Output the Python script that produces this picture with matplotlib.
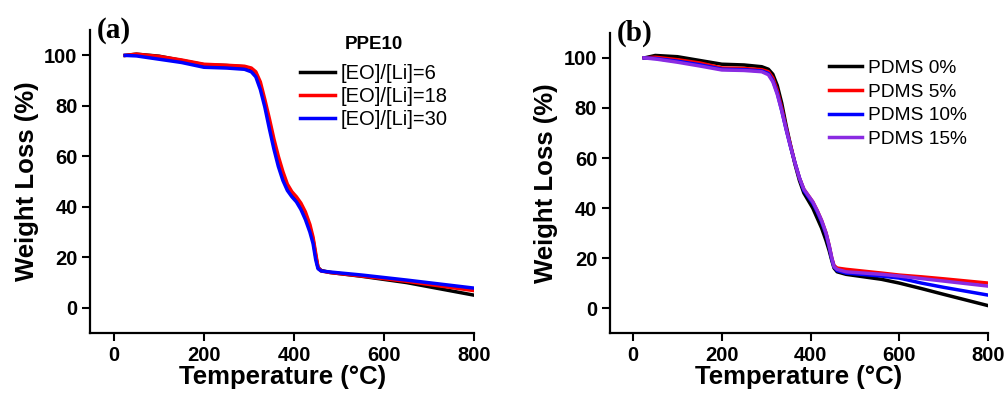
import numpy as np
import matplotlib
matplotlib.use('Agg')
import matplotlib.pyplot as plt

plt.rcParams['font.family'] = ['Liberation Sans', 'DejaVu Sans']

# panel (a): PPE10 with different [EO]/[Li]
tempA = [25, 50, 100, 150, 200, 250, 290, 305, 315, 325, 335, 345, 355, 365,
         375, 385, 395, 405, 415, 425, 435, 442, 448, 453, 460, 480, 550, 650, 800]
eo6 = [100, 100.5, 99.7, 98.0, 96.3, 96.0, 95.5, 94.5, 92.5, 88, 81, 73, 65, 58,
       52, 47.5, 45, 43, 40, 36.5, 31.5, 27, 20.5, 16, 14.8, 14, 12.5, 10, 5]
eo18 = [100, 100.5, 99.6, 98.2, 96.5, 96.1, 95.7, 95, 93.5, 89.5, 82.5, 75, 67, 60,
        54, 49, 46, 44, 41.5, 38, 33, 28, 21.5, 16, 14.6, 14, 12.6, 10.5, 6.8]
eo30 = [100, 99.8, 98.5, 97.2, 95.3, 95, 94.5, 93.5, 91.5, 86.5, 79.5, 71, 63, 56,
        50.5, 46.5, 44, 42, 39, 35, 30, 25.5, 19, 15.5, 14.6, 14.2, 13, 11, 7.8]
labelsA = ['[EO]/[Li]=6', '[EO]/[Li]=18', '[EO]/[Li]=30']
colorsA = ['black', 'red', 'blue']

# panel (b): PDMS content
tempB = [25, 50, 100, 150, 200, 250, 290, 305, 315, 325, 335, 345, 355, 365,
         375, 385, 395, 405, 415, 425, 435, 442, 448, 453, 460, 480, 560, 600, 650, 700, 800]
pdms0 = [100, 101, 100.5, 99, 97.5, 97.2, 96.5, 95.5, 93.5, 89, 82, 73, 65, 57.5,
         51, 46, 43, 40, 36, 32, 27, 23, 19, 16, 14.5, 13.5, 11.5, 10, 7.8, 5.5, 1]
pdms5 = [100, 100.3, 99.3, 98, 96, 95.8, 95.3, 94.5, 92, 87, 80, 72, 65, 58,
         52, 47.5, 45, 42.5, 39, 35, 30, 25, 20, 17, 16, 15.5, 14, 13.2, 12.5, 11.7, 10]
pdms10 = [100, 99.8, 98.7, 97.3, 95.5, 95.3, 94.8, 93.8, 91, 86, 79, 71.5, 64.5, 58,
          52, 47, 44.5, 42, 38.5, 34.5, 29.5, 24.5, 19.5, 16.5, 15, 14, 12.8, 12, 10, 8.3, 5.2]
pdms15 = [100, 99.6, 98.3, 96.8, 95.2, 95, 94.5, 93.3, 90.5, 85.5, 79, 71.5, 64.5, 58,
          52, 47.5, 45, 42.5, 39, 35, 30, 25, 20, 16.5, 15.5, 14.5, 13.5, 12.8, 11.8, 10.8, 8.8]
labelsB = ['PDMS 0%', 'PDMS 5%', 'PDMS 10%', 'PDMS 15%']
colorsB = ['black', 'red', 'blue', '#8a2be2']

xticks = [0, 200, 400, 600, 800]
yticks = [0, 20, 40, 60, 80, 100]

fig = plt.figure(figsize=(10.06, 3.97), dpi=100)
axA = fig.add_axes([0.0895, 0.161, 0.382, 0.763])
axB = fig.add_axes([0.606, 0.161, 0.376, 0.756])


def style_axis(ax, tag):
  for side in ['top', 'right']:
    ax.spines[side].set_visible(False)
  for side in ['left', 'bottom']:
    ax.spines[side].set_linewidth(1.6)
  ax.set_xlim(-53, 800)
  ax.set_ylim(-10, 110)
  ax.set_xticks(xticks)
  ax.set_yticks(yticks)
  ax.tick_params(direction='out', length=6, width=1.5, labelsize=14.5, pad=3)
  for lab in ax.get_xticklabels() + ax.get_yticklabels():
    lab.set_fontweight('bold')
  ax.set_xlabel('Temperature (\u00b0C)', fontsize=18.5, fontweight='bold', labelpad=0)
  ax.set_ylabel('Weight Loss (%)', fontsize=18.5, fontweight='bold', labelpad=4)
  ax.text(0.018, 1.0, tag, transform=ax.transAxes, fontsize=21, fontweight='bold',
          family='Liberation Serif', va='center', ha='left')


for ys, lab, c in zip([eo6, eo18, eo30], labelsA, colorsA):
  axA.plot(tempA, ys, color=c, lw=2.5, label=lab)
style_axis(axA, '(a)')
legA = axA.legend(loc='upper right', bbox_to_anchor=(0.962, 1.02), frameon=False,
                  fontsize=14.5, handlelength=1.7, handletextpad=0.3, labelspacing=0.2,
                  borderaxespad=0.2, title='PPE10')
legA.get_title().set_fontweight('bold')
legA.get_title().set_fontsize(13.5)
legA._legend_box.sep = 8

for ys, lab, c in zip([pdms0, pdms5, pdms10, pdms15], labelsB, colorsB):
  axB.plot(tempB, ys, color=c, lw=2.5, label=lab)
style_axis(axB, '(b)')
axB.legend(loc='upper right', bbox_to_anchor=(0.975, 0.95), frameon=False,
           fontsize=13.8, handlelength=1.75, handletextpad=0.3, labelspacing=0.33,
           borderaxespad=0.2)

fig.savefig('out.png', dpi=100)
